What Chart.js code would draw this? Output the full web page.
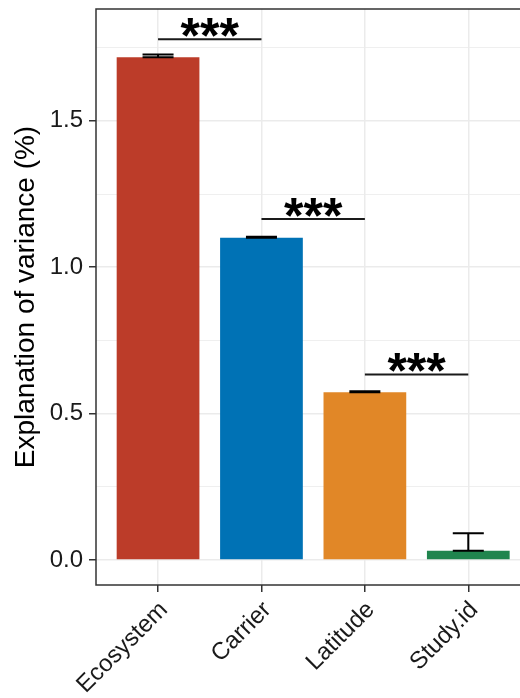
<!DOCTYPE html>
<html>
<head>
<meta charset="utf-8">
<script src="https://cdn.jsdelivr.net/npm/chart.js@4"></script>
<style>
  html, body { margin: 0; padding: 0; background: #fff; overflow: hidden; }
  #wrap { width: 520px; height: 698px; }
</style>
</head>
<body>
<div id="wrap"><canvas id="chart" width="520" height="698"></canvas></div>
<script>
// values
const categories = ['Ecosystem', 'Carrier', 'Latitude', 'Study.id'];
const means = [1.717, 1.101, 0.573, 0.032];
const upper = [1.727, 1.104, 0.576, 0.091];
const barColors = ['#BC3C29', '#0072B5', '#E18727', '#20854E'];
const yTicks = [0, 0.25, 0.5, 0.75, 1.0, 1.25, 1.5, 1.75];
const sigPairs = [[0, 1], [1, 2], [2, 3]];
const sigHeights = [1.779, 1.165, 0.634];
const sigLabels = ['***', '***', '***'];

const FONT = "'Liberation Sans', Arial, Helvetica, sans-serif";
const isMajor = v => Math.abs(v * 2 - Math.round(v * 2)) < 1e-6;

// error bars (mean to mean + se) and significance brackets
const overlay = {
  id: 'overlay',
  afterDatasetsDraw(chart) {
    const { ctx, scales: { x, y } } = chart;
    ctx.save();
    ctx.strokeStyle = '#000';
    ctx.lineWidth = 2;
    means.forEach((m, i) => {
      const cx = x.getPixelForValue(i);
      const half = (x.getPixelForValue(0.15) - x.getPixelForValue(0));
      const y0 = y.getPixelForValue(m);
      const y1 = y.getPixelForValue(upper[i]);
      ctx.beginPath();
      ctx.moveTo(cx - half, y0); ctx.lineTo(cx + half, y0);
      ctx.moveTo(cx, y0); ctx.lineTo(cx, y1);
      ctx.moveTo(cx - half, y1); ctx.lineTo(cx + half, y1);
      ctx.stroke();
    });

    ctx.strokeStyle = '#1a1a1a';
    ctx.fillStyle = '#000';
    ctx.font = 'bold 50px ' + FONT;
    ctx.textAlign = 'center';
    ctx.textBaseline = 'alphabetic';
    sigPairs.forEach(([a, b], i) => {
      const xa = x.getPixelForValue(a);
      const xb = x.getPixelForValue(b);
      const yy = y.getPixelForValue(sigHeights[i]);
      ctx.beginPath();
      ctx.moveTo(xa, yy); ctx.lineTo(xb, yy);
      ctx.stroke();
      ctx.fillText(sigLabels[i], (xa + xb) / 2, yy + 14);
    });

    // panel border
    const ca = chart.chartArea;
    ctx.strokeStyle = '#333';
    ctx.lineWidth = 1.5;
    ctx.strokeRect(ca.left, ca.top, ca.right - ca.left + 10, ca.bottom - ca.top);
    ctx.restore();
  }
};

new Chart(document.getElementById('chart'), {
  type: 'bar',
  data: {
    datasets: [{
      data: means.map((v, i) => ({ x: i, y: v })),
      backgroundColor: barColors,
      borderWidth: 0,
      categoryPercentage: 1,
      barPercentage: 0.8
    }]
  },
  options: {
    responsive: false,
    animation: false,
    devicePixelRatio: 1,
    layout: { padding: { top: 9, left: 0, right: 0, bottom: 0 } },
    plugins: { legend: { display: false }, tooltip: { enabled: false } },
    scales: {
      x: {
        type: 'linear',
        offset: false,
        min: -0.6,
        max: 3.5,
        afterBuildTicks: scale => { scale.ticks = categories.map((_, i) => ({ value: i })); },
        afterFit: scale => {
          scale.height = 113;
          scale.paddingLeft = 0;
          scale.paddingRight = 0;
        },
        border: { display: false },
        grid: {
          offset: false,
          color: '#EBEBEB',
          lineWidth: 1.5,
          tickColor: '#333',
          tickWidth: 1.5,
          tickLength: 7
        },
        ticks: {
          minRotation: 45,
          maxRotation: 45,
          padding: 4,
          labelOffset: 6,
          color: '#1a1a1a',
          font: { family: FONT, size: 24 },
          callback: v => categories[v]
        }
      },
      y: {
        min: -0.0854,
        max: 1.882,
        afterBuildTicks: scale => { scale.ticks = yTicks.map(v => ({ value: v })); },
        afterFit: scale => {
          scale.width = 96;
          scale.paddingTop = 0;
          scale.paddingBottom = 0;
        },
        border: { display: false },
        grid: {
          color: '#EBEBEB',
          lineWidth: c => isMajor(c.tick.value) ? 1.5 : 0.8,
          tickColor: c => isMajor(c.tick.value) ? '#333' : 'rgba(0,0,0,0)',
          tickWidth: 1.5,
          tickLength: 7
        },
        ticks: {
          padding: 6,
          color: '#1a1a1a',
          font: { family: FONT, size: 24 },
          callback: v => isMajor(v) ? v.toFixed(1) : ''
        },
        title: {
          display: true,
          text: 'Explanation of variance (%)',
          color: '#000',
          font: { family: FONT, size: 28 },
          padding: { top: 9, bottom: 0 }
        }
      }
    }
  },
  plugins: [overlay]
});
</script>
</body>
</html>
